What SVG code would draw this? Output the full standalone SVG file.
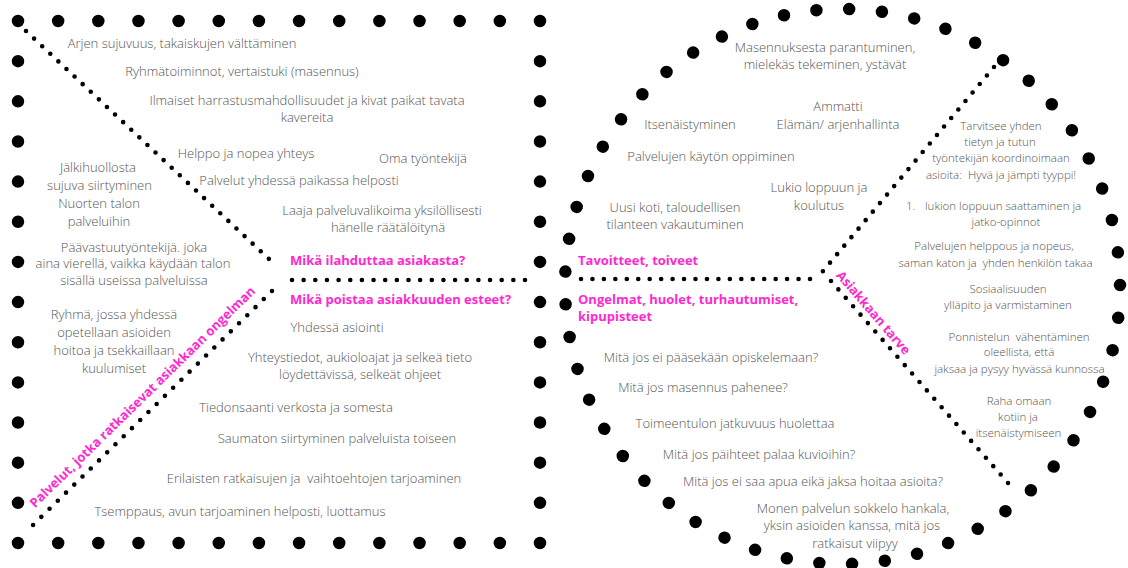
<svg xmlns="http://www.w3.org/2000/svg" width="1128" height="568" viewBox="0 0 1128 568">
  <style>
    .t { font-family: "Open Sans", "Liberation Sans", sans-serif; font-weight: 300; font-size: 13px; fill: #555; text-anchor: middle; white-space: pre; }
    .s { font-size: 11.5px; }
    .l { text-anchor: start; }
    .h { font-family: "Open Sans", "Liberation Sans", sans-serif; font-weight: 700; font-size: 13px; fill: #ff29cf; white-space: pre; }
    .hc { text-anchor: middle; }
    .big { fill: none; stroke: #000; stroke-width: 12.5; stroke-linecap: round; stroke-dasharray: 0 1; }
    .small { fill: none; stroke: #000; stroke-width: 4.6; stroke-linecap: round; }
  </style>

  <rect width="1128" height="568" fill="#fff"/>

  <!-- dotted square frame: 13 intervals per side -->
  <g id="square-frame">
    <path class="big" d="M18 21 H540 V543 H18 Z" pathLength="52"/>
  </g>

  <!-- dotted round frame -->
  <g id="round-frame">
    <circle class="big" cx="842.5" cy="286.5" r="277.5" pathLength="53" transform="rotate(-0.3 842.5 286.5)"/>
  </g>

  <!-- dotted dividers -->
  <g id="connectors">
    <line class="small" x1="26" y1="31" x2="269.4" y2="259.4" stroke-dasharray="0 11.1"/>
    <line class="small" x1="292" y1="280" x2="525.5" y2="280" stroke-dasharray="0 11.65"/>
    <line class="small" x1="272" y1="291" x2="32.6" y2="525.4" stroke-dasharray="0 11.53"/>
    <line class="small" x1="581" y1="279" x2="810.5" y2="279" stroke-dasharray="0 11.45"/>
    <line class="small" x1="994" y1="67" x2="822.7" y2="271.4" stroke-dasharray="0 11.1"/>
    <line class="small" x1="831" y1="281" x2="1008.4" y2="483.4" stroke-dasharray="0 11.19"/>
  </g>

  <!-- section headings -->
  <g id="headings">
    <text class="h" x="290" y="265">Mikä ilahduttaa asiakasta?</text>
    <text class="h" x="290" y="303.5">Mikä poistaa asiakkuuden esteet?</text>
    <text class="h" x="578" y="265">Tavoitteet, toiveet</text>
    <text class="h" x="578" y="303.5">Ongelmat, huolet, turhautumiset,</text>
    <text class="h" x="578" y="320.5">kipupisteet</text>
    <text class="h hc" transform="translate(145.6 400.2) rotate(-44.4)">Palvelut, jotka ratkaisevat asiakkaan ongelman</text>
    <text class="h hc" transform="translate(870 315.6) rotate(49.2)">Asiakkaan tarve</text>
  </g>

  <!-- gain creators -->
  <g id="gain-creators">
    <text class="t" x="182" y="47.5">Arjen sujuvuus, takaiskujen välttäminen</text>
    <text class="t" x="242" y="75.5">Ryhmätoiminnot, vertaistuki (masennus)</text>
    <text class="t" x="307" y="104.5">Ilmaiset harrastusmahdollisuudet ja kivat paikat tavata</text>
    <text class="t" x="307" y="122">kavereita</text>
    <text class="t" x="246" y="157.5">Helppo ja nopea yhteys</text>
    <text class="t" x="423" y="162.5">Oma työntekijä</text>
    <text class="t" x="299" y="184.5">Palvelut yhdessä paikassa helposti</text>
    <text class="t" x="382" y="214.5">Laaja palveluvalikoima yksilöllisesti</text>
    <text class="t" x="388" y="232">hänelle räätälöitynä</text>
  </g>

  <!-- products and services -->
  <g id="services">
    <text class="t" x="98" y="171.5">Jälkihuollosta</text>
    <text class="t" x="99.5" y="189.5">sujuva siirtyminen</text>
    <text class="t" x="99" y="207.5">Nuorten talon</text>
    <text class="t" x="99" y="225.5">palveluihin</text>
    <text class="t" x="134" y="251.5">Päävastuutyöntekijä. joka</text>
    <text class="t" x="133" y="267.5">aina vierellä, vaikka käydään talon</text>
    <text class="t" x="134" y="284.5">sisällä useissa palveluissa</text>
    <text class="t" x="114" y="318.5">Ryhmä, jossa yhdessä</text>
    <text class="t" x="114" y="336.5">opetellaan asioiden</text>
    <text class="t" x="114" y="354.5">hoitoa ja tsekkaillaan</text>
    <text class="t" x="114" y="372.5">kuulumiset</text>
  </g>

  <!-- pain relievers -->
  <g id="pain-relievers">
    <text class="t" x="337" y="331.5">Yhdessä asiointi</text>
    <text class="t" x="360" y="361.5">Yhteystiedot, aukioloajat ja selkeä tieto</text>
    <text class="t" x="360" y="378.5">löydettävissä, selkeät ohjeet</text>
    <text class="t" x="296" y="411.5">Tiedonsaanti verkosta ja somesta</text>
    <text class="t" x="337" y="442.5">Saumaton siirtyminen palveluista toiseen</text>
    <text class="t" x="314" y="482.5">Erilaisten ratkaisujen ja  vaihtoehtojen tarjoaminen</text>
    <text class="t" x="240" y="515.5">Tsemppaus, avun tarjoaminen helposti, luottamus</text>
  </g>

  <!-- gains -->
  <g id="gains">
    <text class="t" x="825" y="51.5">Masennuksesta parantuminen,</text>
    <text class="t" x="825" y="68.5">mielekäs tekeminen, ystävät</text>
    <text class="t" x="838" y="111">Ammatti</text>
    <text class="t" x="838" y="129">Elämän/ arjenhallinta</text>
    <text class="t" x="690" y="129">Itsenäistyminen</text>
    <text class="t" x="711" y="160.5">Palvelujen käytön oppiminen</text>
    <text class="t" x="819" y="191.5">Lukio loppuun ja</text>
    <text class="t" x="819" y="209.5">koulutus</text>
    <text class="t" x="675" y="211.5">Uusi koti, taloudellisen</text>
    <text class="t" x="675" y="228.5">tilanteen vakautuminen</text>
  </g>

  <!-- customer jobs -->
  <g id="customer-jobs">
    <text class="t s" x="1001" y="130">Tarvitsee yhden</text>
    <text class="t s" x="1000" y="145.5">tietyn ja tutun</text>
    <text class="t s" x="1001" y="162">työntekijän koordinoimaan</text>
    <text class="t s" x="1001" y="179">asioita:  Hyvä ja jämpti tyyppi!</text>
    <text class="t s l" x="906" y="210">1.</text>
    <text class="t s l" x="925" y="210">lukion loppuun saattaminen ja</text>
    <text class="t s" x="1006" y="226">jatko-opinnot</text>
    <text class="t s" x="994" y="250">Palvelujen helppous ja nopeus,</text>
    <text class="t s" x="995.5" y="267">saman katon ja  yhden henkilön takaa</text>
    <text class="t s" x="1008" y="293">Sosiaalisuuden</text>
    <text class="t s" x="1008" y="309">ylläpito ja varmistaminen</text>
    <text class="t s" x="1019" y="341">Ponnistelun  vähentäminen</text>
    <text class="t s" x="1019" y="356">oleellista, että</text>
    <text class="t s" x="1019.5" y="373">jaksaa ja pysyy hyvässä kunnossa</text>
    <text class="t s" x="1019" y="405">Raha omaan</text>
    <text class="t s" x="1018" y="421">kotiin ja</text>
    <text class="t s" x="1018.5" y="437">itsenäistymiseen</text>
  </g>

  <!-- pains -->
  <g id="pains">
    <text class="t" x="711" y="361.5">Mitä jos ei pääsekään opiskelemaan?</text>
    <text class="t" x="703" y="391.5">Mitä jos masennus pahenee?</text>
    <text class="t" x="735" y="427.5">Toimeentulon jatkuvuus huolettaa</text>
    <text class="t" x="759" y="458.5">Mitä jos päihteet palaa kuvioihin?</text>
    <text class="t" x="813" y="485.5">Mitä jos ei saa apua eikä jaksa hoitaa asioita?</text>
    <text class="t" x="853" y="512.5">Monen palvelun sokkelo hankala,</text>
    <text class="t" x="852" y="529.5">yksin asioiden kanssa, mitä jos</text>
    <text class="t" x="855" y="547.5">ratkaisut viipyy</text>
  </g>
</svg>
